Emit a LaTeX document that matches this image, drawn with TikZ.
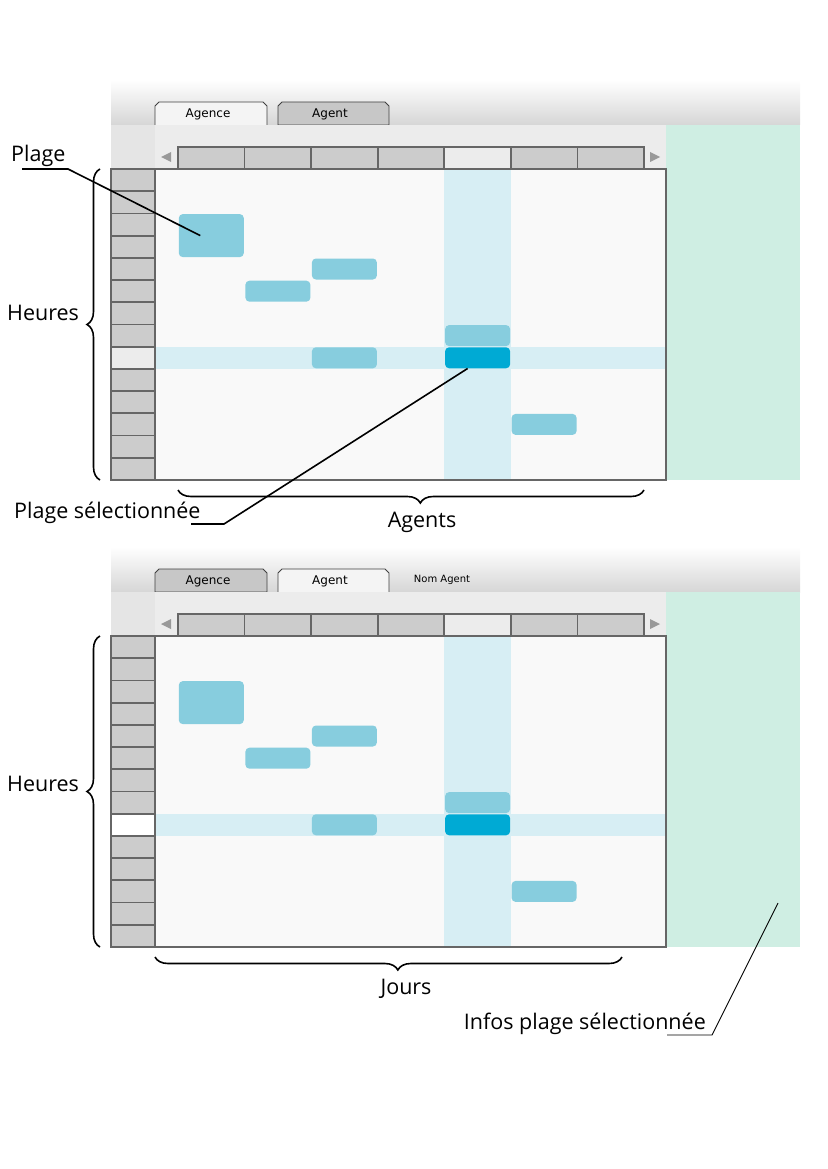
\documentclass[tikz,border=0pt]{standalone}
\usepackage{fontspec}
\setmainfont{Open Sans}
\newfontfamily\ongletfont{DejaVu Sans}
\usetikzlibrary{decorations.pathreplacing,calc}

\definecolor{plagebleu}{HTML}{87CDDE}
\definecolor{plagesel}{HTML}{00AAD4}
\definecolor{surligne}{HTML}{D7EEF4}
\definecolor{fondgrille}{HTML}{F9F9F9}
\definecolor{cellgris}{HTML}{CCCCCC}
\definecolor{bordgris}{HTML}{666666}
\definecolor{fondclair}{HTML}{ECECEC}
\definecolor{panneauvert}{HTML}{CFEEE3}
\definecolor{bandegris}{HTML}{D6D6D6}

\begin{document}
\begin{tikzpicture}[x=1pt, y=-1pt, every node/.style={inner sep=0pt},
  plage/.style={fill=plagebleu, rounded corners=4pt, minimum width=65pt, minimum height=21pt},
  plagechoisie/.style={plage, fill=plagesel},
  cellule/.style={draw=bordgris, line width=1.8pt},
  ongletactif/.style={draw=black!75, fill=fondclair!60, line width=0.8pt},
  ongletinactif/.style={draw=black!75, fill=black!22, line width=0.8pt},
  ongletlabel/.style={font=\ongletfont\fontsize{12}{14}\selectfont},
  annot/.style={font=\fontsize{21.5}{26}\selectfont},
  trait/.style={line width=1.6pt},
  accolade/.style={decorate, decoration={brace, amplitude=13pt, aspect=#1}, line width=1.6pt},
  accolade/.default=0.5]

  \useasboundingbox (0,0) rectangle (827,1169);

  %%%%%%%%%%%%%%%%%%%%%%%%%%%%%%
  % Top screen : vue Agence    %
  %%%%%%%%%%%%%%%%%%%%%%%%%%%%%%
  \begin{scope}
    % window bar and tabs
    \fill[top color=white, bottom color=bandegris] (111,80) rectangle (800,125);
    \draw[black!35] (111,125) -- (800,125);
    \draw[ongletactif] (155,125) -- (155,106) -- (159,102) -- (263,102) -- (267,106) -- (267,125);
    \draw[ongletinactif] (278,125) -- (278,106) -- (282,102) -- (385,102) -- (389,106) -- (389,125) -- cycle;
    \node[ongletlabel] (hAgence) at (208,114) {Agence};
    \node[ongletlabel] (hAgent) at (330,114) {Agent};

    % background panels
    \fill[fondclair] (111,125) rectangle (666,480);
    \fill[black!10] (111,125) rectangle (155,169);
    \fill[panneauvert] (666,125) rectangle (800,480);

    % planning grid with selected column and row
    \fill[fondgrille] (155,169) rectangle (666,480);
    \fill[surligne] (444.3,169) rectangle (510.9,480);
    \fill[surligne] (155,346.7) rectangle (666,368.9);
    \draw[bordgris, line width=1.2pt] (155,169) rectangle (666,480);

    % plages
    \node[plage, minimum height=43pt] (hP1) at (211.3,235.6) {};
    \node[plage] (hP2) at (277.9,291.2) {};
    \node[plage] (hP3) at (344.4,269.0) {};
    \node[plage] (hP4) at (344.4,357.8) {};
    \node[plage] (hP5) at (477.6,335.6) {};
    \node[plagechoisie] (hSel) at (477.6,357.8) {};
    \node[plage] (hP6) at (544.1,424.4) {};

    % column header (agents) and hours
    \fill[cellgris] (178,147) rectangle (644,169);
    \fill[fondclair] (444.3,147) rectangle ++(66.57,22);
    \foreach \j in {0,...,6}
      \draw[cellule] ({178+66.57*\j},147) rectangle ++(66.57,22);
    \fill[cellgris] (111,169) rectangle (155,480);
    \fill[fondclair] (111,346.7) rectangle ++(44,22.21);
    \foreach \i in {0,...,13}
      \draw[cellule] (111,{169+22.21*\i}) rectangle ++(44,22.21);
    \fill[black!40] (161,157) -- (171,152) -- (171,162) -- cycle;
    \fill[black!40] (660,157) -- (650,152) -- (650,162) -- cycle;
  \end{scope}

  %%%%%%%%%%%%%%%%%%%%%%%%%%%%%%
  % Bottom screen : vue Agent  %
  %%%%%%%%%%%%%%%%%%%%%%%%%%%%%%
  \begin{scope}[shift={(0,467)}]
    % window bar and tabs
    \fill[top color=white, bottom color=bandegris] (111,80) rectangle (800,125);
    \draw[black!35] (111,125) -- (800,125);
    \draw[ongletinactif] (155,125) -- (155,106) -- (159,102) -- (263,102) -- (267,106) -- (267,125) -- cycle;
    \draw[ongletactif] (278,125) -- (278,106) -- (282,102) -- (385,102) -- (389,106) -- (389,125);
    \node[ongletlabel] (bAgence) at (208,114) {Agence};
    \node[ongletlabel] (bAgent) at (330,114) {Agent};
    \node[ongletlabel, font=\ongletfont\fontsize{10}{12}\selectfont] (bNom) at (442,113) {Nom Agent};

    % background panels
    \fill[fondclair] (111,125) rectangle (666,480);
    \fill[black!10] (111,125) rectangle (155,169);
    \fill[panneauvert] (666,125) rectangle (800,480);

    % planning grid with selected column and row
    \fill[fondgrille] (155,169) rectangle (666,480);
    \fill[surligne] (444.3,169) rectangle (510.9,480);
    \fill[surligne] (155,346.7) rectangle (666,368.9);
    \draw[bordgris, line width=1.2pt] (155,169) rectangle (666,480);

    % plages
    \node[plage, minimum height=43pt] (bP1) at (211.3,235.6) {};
    \node[plage] (bP2) at (277.9,291.2) {};
    \node[plage] (bP3) at (344.4,269.0) {};
    \node[plage] (bP4) at (344.4,357.8) {};
    \node[plage] (bP5) at (477.6,335.6) {};
    \node[plagechoisie] (bSel) at (477.6,357.8) {};
    \node[plage] (bP6) at (544.1,424.4) {};

    % column header (days) and hours
    \fill[cellgris] (178,147) rectangle (644,169);
    \fill[fondclair] (444.3,147) rectangle ++(66.57,22);
    \foreach \j in {0,...,6}
      \draw[cellule] ({178+66.57*\j},147) rectangle ++(66.57,22);
    \fill[cellgris] (111,169) rectangle (155,480);
    \fill[white] (111,346.7) rectangle ++(44,22.21);
    \foreach \i in {0,...,13}
      \draw[cellule] (111,{169+22.21*\i}) rectangle ++(44,22.21);
    \fill[black!40] (161,157) -- (171,152) -- (171,162) -- cycle;
    \fill[black!40] (660,157) -- (650,152) -- (650,162) -- cycle;

    \coordinate (bInfosPt) at (778,436);
  \end{scope}

  %%%%%%%%%%%%%%%%%%%%%%%%%%%%%%
  % Annotations                %
  %%%%%%%%%%%%%%%%%%%%%%%%%%%%%%
  % Plage
  \node[annot, anchor=base west] (lPlage) at (11,162) {Plage};
  \coordinate (lPlageA) at (22,169);
  \coordinate (lPlageB) at (68,169);
  \draw[trait] (lPlageA) -- (lPlageB) -- ($(hP1.center)+(-11,0)$);

  % Plage selectionnee
  \node[annot, anchor=base west] (lSel) at (14,518) {Plage sélectionnée};
  \coordinate (lSelA) at (191,524);
  \coordinate (lSelB) at (224,524);
  \draw[trait] (lSelA) -- (lSelB) -- ($(hSel.south)+(-10,0)$);

  % Heures
  \draw[accolade] (100,480) -- (100,169);
  \node[annot, anchor=base west] (lHeuresH) at (7,320) {Heures};
  \draw[accolade] (100,947) -- (100,636);
  \node[annot, anchor=base west] (lHeuresB) at (7,791) {Heures};

  % Agents / Jours
  \draw[accolade=0.48] (644,490) -- (178,490);
  \node[annot] (lAgents) at (422,522) {Agents};
  \draw[accolade=0.48] (622,957) -- (155,957);
  \node[annot] (lJours) at (406,989) {Jours};

  % Infos plage selectionnee
  \node[annot, anchor=base east] (lInfos) at (706,1029) {Infos plage sélectionnée};
  \coordinate (lInfosA) at (667,1035);
  \coordinate (lInfosB) at (712,1035);
  \draw[line width=0.9pt] (lInfosA) -- (lInfosB) -- (bInfosPt);

\end{tikzpicture}
\end{document}
